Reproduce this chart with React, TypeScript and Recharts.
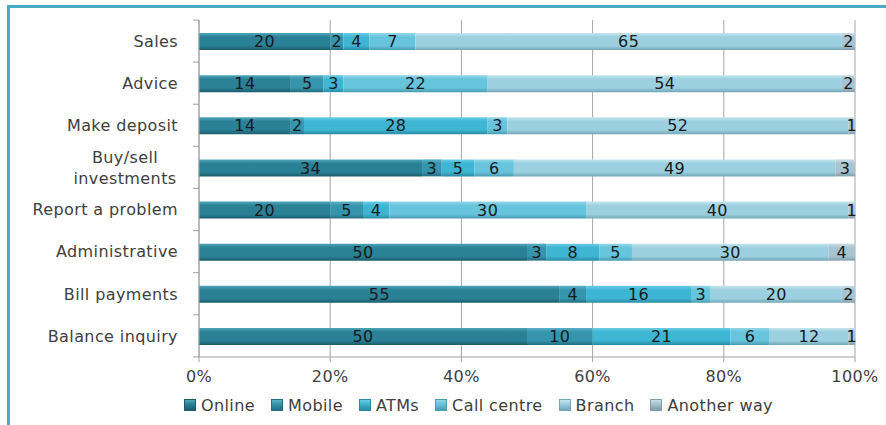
import { Bar, BarChart, CartesianGrid, LabelList, Legend, XAxis, YAxis } from 'recharts';

const categories = [
  'Sales',
  'Advice',
  'Make deposit',
  'Buy/sell investments',
  'Report a problem',
  'Administrative',
  'Bill payments',
  'Balance inquiry',
];
const online = [20, 14, 14, 34, 20, 50, 55, 50];
const mobile = [2, 5, 2, 3, 5, 3, 4, 10];
const atms = [4, 3, 28, 5, 4, 8, 16, 21];
const callCentre = [7, 22, 3, 6, 30, 5, 3, 6];
const branch = [65, 54, 52, 49, 40, 30, 20, 12];
const anotherWay = [2, 2, 1, 3, 1, 4, 2, 1];
const xTicks = [0, 20, 40, 60, 80, 100];

const data = categories.map((name, i) => ({
  name,
  online: online[i],
  mobile: mobile[i],
  atms: atms[i],
  callCentre: callCentre[i],
  branch: branch[i],
  anotherWay: anotherWay[i],
}));

const series = [
  { key: 'online', name: 'Online', light: '#4ea6b9', base: '#2a8196', dark: '#1b5d6c' },
  { key: 'mobile', name: 'Mobile', light: '#5cb0c6', base: '#3595ad', dark: '#246d80' },
  { key: 'atms', name: 'ATMs', light: '#6ccde5', base: '#3db5d3', dark: '#2a8aa3' },
  { key: 'callCentre', name: 'Call centre', light: '#93d6e8', base: '#66c4dc', dark: '#4a9cb2' },
  { key: 'branch', name: 'Branch', light: '#c4e5ef', base: '#9ccfdf', dark: '#73a6b7' },
  { key: 'anotherWay', name: 'Another way', light: '#cadde5', base: '#a8c4d0', dark: '#7f9dab' },
];

const font = '"DejaVu Sans", sans-serif';
const spacing = 0.4;

const CategoryTick = (props: any) => {
  const { x, y, payload } = props;
  const label: string = payload.value;
  const lines = label.length > 18 ? label.split(' ') : [label];
  const axisX = x + 21;
  return (
    <g>
      <line x1={axisX - 6} x2={axisX} y1={y + 21} y2={y + 21} stroke="#a0a0a0" />
      {payload.index === 0 && <line x1={axisX - 6} x2={axisX} y1={y - 21} y2={y - 21} stroke="#a0a0a0" />}
      {lines.length === 1 ? (
        <text
          x={x}
          y={y}
          dy="0.36em"
          textAnchor="end"
          fill="#404040"
          fontSize={16}
          fontFamily={font}
          letterSpacing={spacing}
        >
          {label}
        </text>
      ) : (
        lines.map((ln, i) => (
          <text
            key={ln}
            x={x - 53}
            y={y + (i - (lines.length - 1) / 2) * 21}
            dy="0.36em"
            textAnchor="middle"
            fill="#404040"
            fontSize={16}
            fontFamily={font}
            letterSpacing={spacing}
          >
            {ln}
          </text>
        ))
      )}
    </g>
  );
};

const LegendContent = () => (
  <div
    style={{
      display: 'flex',
      justifyContent: 'center',
      alignItems: 'center',
      height: 24,
      fontSize: 16,
      fontFamily: font,
      letterSpacing: spacing,
      color: '#404040',
      whiteSpace: 'nowrap',
    }}
  >
    {series.map((s, i) => (
      <span
        key={s.key}
        style={{ display: 'inline-flex', alignItems: 'center', marginLeft: i === 0 ? 0 : 16 }}
      >
        <span
          style={{
            display: 'inline-block',
            width: 10,
            height: 10,
            marginRight: 5,
            border: `1px solid ${s.dark}`,
            background: `linear-gradient(${s.light}, ${s.base} 40%, ${s.dark})`,
          }}
        />
        {s.name}
      </span>
    ))}
  </div>
);

export default function App() {
  return (
    <div style={{ position: 'absolute', left: 0, top: 0, width: 886, height: 425, background: '#fff' }}>
      <div
        style={{
          position: 'absolute',
          left: 7,
          top: 5,
          width: 879,
          height: 420,
          borderTop: '3px solid #4bacc6',
          borderLeft: '3px solid #4bacc6',
        }}
      />
      <BarChart
        width={886}
        height={425}
        data={data}
        layout="vertical"
        barSize={17}
        margin={{ top: 20, right: 31, bottom: 8, left: 0 }}
        style={{ position: 'absolute', left: 0, top: 0, fontFamily: font }}
      >
        <defs>
          {series.map(s => (
            <linearGradient key={s.key} id={`g-${s.key}`} x1="0" y1="0" x2="0" y2="1">
              <stop offset="0%" stopColor={s.light} />
              <stop offset="25%" stopColor={s.base} />
              <stop offset="75%" stopColor={s.base} />
              <stop offset="100%" stopColor={s.dark} />
            </linearGradient>
          ))}
        </defs>
        <CartesianGrid horizontal={false} stroke="#a6a6a6" />
        <XAxis
          type="number"
          domain={[0, 100]}
          ticks={xTicks}
          tickFormatter={v => `${v}%`}
          height={36}
          tickSize={5}
          tickMargin={9}
          stroke="#a0a0a0"
          tick={{ fill: '#404040', fontSize: 16, fontFamily: font, letterSpacing: spacing }}
        />
        <YAxis
          type="category"
          dataKey="name"
          width={199}
          tickLine={false}
          tickSize={0}
          tickMargin={21}
          stroke="#a0a0a0"
          tick={<CategoryTick />}
          interval={0}
        />
        <Legend
          verticalAlign="bottom"
          content={<LegendContent />}
          wrapperStyle={{ left: 150, width: 657, height: 24 }}
        />
        {series.map(s => (
          <Bar
            key={s.key}
            dataKey={s.key}
            name={s.name}
            stackId="a"
            fill={`url(#g-${s.key})`}
            isAnimationActive={false}
          >
            <LabelList
              dataKey={s.key}
              position="center"
              fill="#1a1a1a"
              fontSize={16}
              fontFamily={font}
              letterSpacing={spacing}
            />
          </Bar>
        ))}
      </BarChart>
    </div>
  );
}
